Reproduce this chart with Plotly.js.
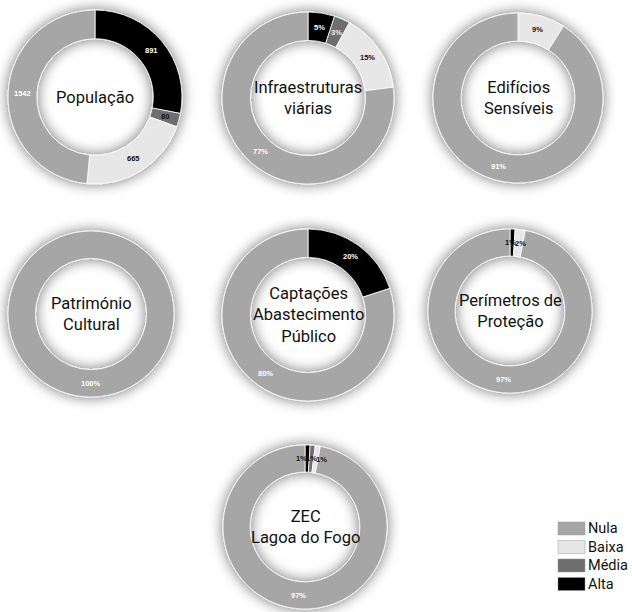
<!DOCTYPE html>
<html>
<head>
<meta charset="utf-8">
<script src="https://cdn.plot.ly/plotly-3.0.1.min.js"></script>
<style>
  html, body { margin: 0; padding: 0; background: #ffffff; }
  #chart { width: 632px; height: 612px; }
</style>
</head>
<body>
<div id="chart"></div>
<script>
// Risk classes, in the clockwise order the slices are drawn (from 12 o'clock)
const categories = ['Alta', 'Média', 'Baixa', 'Nula'];
// Order used in the key
const legendOrder = ['Nula', 'Baixa', 'Média', 'Alta'];

// Exposed elements (one doughnut each)
const panelTitles = [
  'População',
  'Infraestruturas<br>viárias',
  'Edifícios<br>Sensíveis',
  'Património<br>Cultural',
  'Captações<br>Abastecimento<br>Público',
  'Perímetros de<br>Proteção',
  'ZEC<br>Lagoa do Fogo'
];

// Values per class [Alta, Média, Baixa, Nula]
const populacao       = [891, 80, 665, 1542];   // inhabitants
const infraestruturas = [5, 3, 15, 77];         // %
const edificios       = [0, 0, 9, 91];          // %
const patrimonio      = [0, 0, 0, 100];         // %
const captacoes       = [20, 0, 0, 80];         // %
const perimetros      = [1, 0, 2, 97];          // %
const zec             = [1, 1, 1, 97];          // %

const panelValues = [populacao, infraestruturas, edificios, patrimonio, captacoes, perimetros, zec];
const panelUnits  = ['', '%', '%', '%', '%', '%', '%'];

// ---- styling / layout ----
const W = 632, H = 612;
const HOLE = 0.67;
const classColors = { 'Alta': '#000000', 'Média': '#6e6e6e', 'Baixa': '#e7e7e7', 'Nula': '#a6a6a6' };
const labelColors = { 'Alta': '#ffffff', 'Média': '#f2f2f2', 'Baixa': '#111111', 'Nula': '#ffffff' };
// centre (px) and outer radius (px) of each doughnut
const panelGeom = [
  { cx: 95,  cy: 97,  r: 87 },
  { cx: 308, cy: 98,  r: 86 },
  { cx: 518, cy: 98,  r: 85 },
  { cx: 91,  cy: 314, r: 83 },
  { cx: 308, cy: 315, r: 86 },
  { cx: 510, cy: 311, r: 82 },
  { cx: 305, cy: 527, r: 82 }
];
const TEXT_FAMILY = 'Roboto, "Liberation Sans", sans-serif';
const TITLE_FONT = { family: TEXT_FAMILY, size: 16.5, color: '#111111' };
const LABEL_FONT_FAMILY = '"Liberation Sans", Arial, sans-serif';
const LABEL_SIZE = 7.5;

const px = x => x / W;
const py = y => 1 - y / H;

const traces = [];
const annotations = [];

panelValues.forEach((vals, i) => {
  const g = panelGeom[i];
  const labels = [], values = [], colors = [];
  vals.forEach((v, k) => {
    if (v > 0) { labels.push(categories[k]); values.push(v); colors.push(classColors[categories[k]]); }
  });
  traces.push({
    type: 'pie',
    labels: labels,
    values: values,
    sort: false,
    direction: 'clockwise',
    rotation: 0,
    hole: HOLE,
    textinfo: 'none',
    hoverinfo: 'skip',
    showlegend: false,
    marker: { colors: colors, line: { color: '#ffffff', width: 0.8 } },
    domain: { x: [px(g.cx - g.r), px(g.cx + g.r)], y: [py(g.cy + g.r), py(g.cy - g.r)] }
  });

  // centre title
  annotations.push({
    xref: 'paper', yref: 'paper', x: px(g.cx), y: py(g.cy),
    xanchor: 'center', yanchor: 'middle', showarrow: false,
    text: panelTitles[i], font: TITLE_FONT
  });

  // slice value labels at the middle of the ring
  const total = values.reduce((a, b) => a + b, 0);
  const rm = g.r * (1 + HOLE) / 2;
  let cum = 0;
  const lab = [];
  values.forEach((v, k) => {
    const mid = (cum + v / 2) / total * 2 * Math.PI;
    cum += v;
    const text = String(v) + panelUnits[i];
    const tiny = v / total < 0.03;
    lab.push({
      x: g.cx + rm * Math.sin(mid),
      y: g.cy - rm * Math.cos(mid),
      w: text.length * 4.4,
      text: text,
      color: tiny ? '#111111' : labelColors[labels[k]]
    });
  });
  // push apart labels of adjacent thin slices so they stay legible
  for (let it = 0; it < 30; it++) {
    for (let a = 1; a < lab.length; a++) {
      const p = lab[a - 1], q = lab[a];
      const need = (p.w + q.w) / 2 + 1;
      if (Math.abs(p.y - q.y) < 9 && Math.abs(q.x - p.x) < need) {
        const d = (need - Math.abs(q.x - p.x)) / 2;
        const s = q.x >= p.x ? 1 : -1;
        q.x += s * d; p.x -= s * d;
      }
    }
  }
  lab.forEach(l => {
    annotations.push({
      xref: 'paper', yref: 'paper', x: px(l.x), y: py(l.y),
      xanchor: 'center', yanchor: 'middle', showarrow: false,
      text: '<b>' + l.text + '</b>',
      font: { family: LABEL_FONT_FAMILY, size: LABEL_SIZE, color: l.color }
    });
  });
});

// key (bottom right)
const shapes = [];
const KEY_X = 558, KEY_Y = 522, KEY_W = 27, KEY_H = 13, KEY_STEP = 18.5;
legendOrder.forEach((name, k) => {
  const y0 = KEY_Y + k * KEY_STEP;
  shapes.push({
    type: 'rect', xref: 'paper', yref: 'paper',
    x0: px(KEY_X), x1: px(KEY_X + KEY_W), y0: py(y0 + KEY_H), y1: py(y0),
    fillcolor: classColors[name], line: { color: '#9a9a9a', width: 0.5 }
  });
  annotations.push({
    xref: 'paper', yref: 'paper', x: px(KEY_X + KEY_W + 1), y: py(y0 + KEY_H / 2),
    xanchor: 'left', yanchor: 'middle', showarrow: false,
    text: name, font: { family: TEXT_FAMILY, size: 14.5, color: '#111111' }
  });
});

const layout = {
  width: W, height: H,
  margin: { l: 0, r: 0, t: 0, b: 0 },
  paper_bgcolor: '#ffffff',
  plot_bgcolor: '#ffffff',
  showlegend: false,
  annotations: annotations,
  shapes: shapes
};

Plotly.newPlot('chart', traces, layout, { staticPlot: true }).then(gd => {
  // soft grey glow around each ring
  const svg = gd.querySelector('svg.main-svg');
  const NS = 'http://www.w3.org/2000/svg';
  let defs = svg.querySelector('defs');
  if (!defs) { defs = document.createElementNS(NS, 'defs'); svg.insertBefore(defs, svg.firstChild); }
  const f = document.createElementNS(NS, 'filter');
  f.setAttribute('id', 'ringGlow');
  f.setAttribute('x', '-25%'); f.setAttribute('y', '-25%');
  f.setAttribute('width', '150%'); f.setAttribute('height', '150%');
  f.innerHTML =
    '<feGaussianBlur in="SourceAlpha" stdDeviation="7" result="b"/>' +
    '<feComponentTransfer in="b" result="s"><feFuncA type="linear" slope="0.55"/></feComponentTransfer>' +
    '<feMerge><feMergeNode in="s"/><feMergeNode in="SourceGraphic"/></feMerge>';
  defs.appendChild(f);
  gd.querySelectorAll('.pielayer g.trace').forEach(t => t.setAttribute('filter', 'url(#ringGlow)'));
});
</script>
</body>
</html>
